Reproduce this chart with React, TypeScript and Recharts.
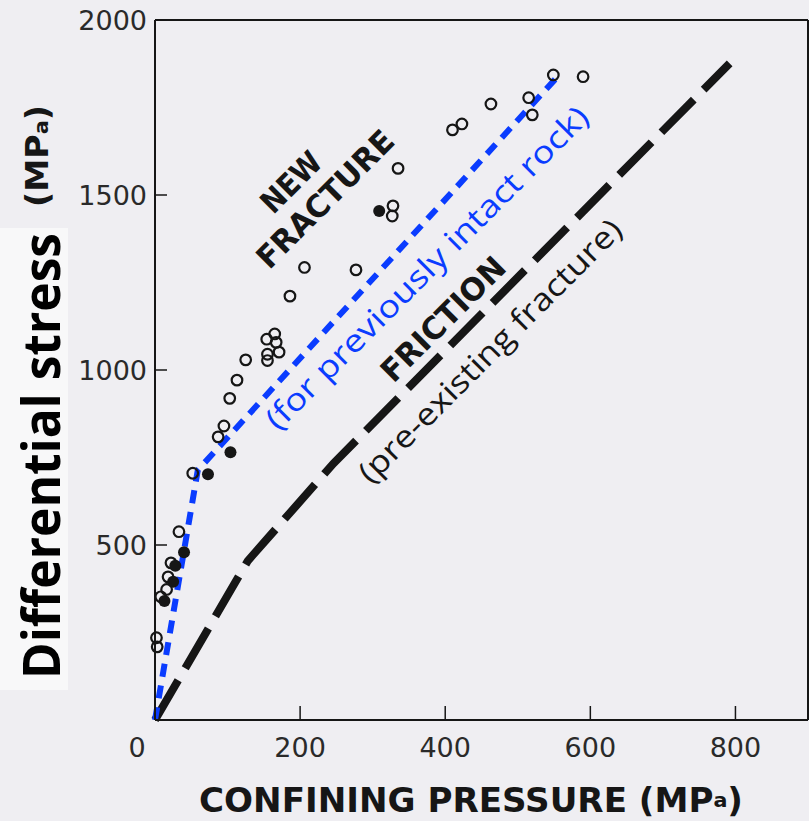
import React from "react";
import { ComposedChart, XAxis, YAxis, Line, Scatter } from "recharts";

const W = 809;
const H = 821;
const INK = "#161616";
const BLUE = "#0a3cff";
const PAPER = "#efeef2";

// open circles: confining pressure (MPa) / differential stress (MPa)
const openPressure = [2, 3, 8, 16, 18, 22, 33, 52, 87, 95, 103, 113, 125, 155, 155, 154, 165, 167, 171, 186, 206, 277, 327, 328, 335, 410, 423, 463, 515, 520, 549, 590];
const openStress = [235, 209, 352, 373, 409, 449, 538, 705, 809, 840, 919, 971, 1029, 1027, 1045, 1088, 1103, 1079, 1051, 1211, 1293, 1286, 1440, 1469, 1576, 1686, 1703, 1760, 1778, 1729, 1843, 1838];

// filled circles
const filledPressure = [13, 25, 28, 40, 73, 104, 309];
const filledStress = [340, 395, 441, 479, 702, 765, 1454];

// envelope for new fracture (blue dotted)
const fracturePressure = [0, 59, 553];
const fractureStress = [0, 714, 1834];

// friction on pre-existing fracture (black dashed)
const frictionPressure = [0, 128, 246, 792];
const frictionStress = [0, 455, 733, 1876];

const xTicks = [0, 200, 400, 600, 800];
const yTicks = [0, 500, 1000, 1500, 2000];
const rightTicks = [500, 1000, 1500];

const zip = (xs: number[], ys: number[]) => xs.map((x, i) => ({ x, y: ys[i] }));

const openPts = zip(openPressure, openStress);
const filledPts = zip(filledPressure, filledStress);
const fracturePts = zip(fracturePressure, fractureStress);
const frictionPts = zip(frictionPressure, frictionStress);

const tickFont = { fontFamily: "DejaVu Sans", fontSize: 27, fill: "#2a2a2a" };

function BottomTick(p: any) {
  const v = p.payload.value;
  return (
    <g>
      {v !== 0 && <line x1={p.x} y1={p.y} x2={p.x} y2={p.y - 14} stroke={INK} strokeWidth={1.5} />}
      <text x={v === 0 ? p.x - 18 : p.x} y={p.y + 27} textAnchor="middle" dominantBaseline="central" {...tickFont}>
        {v}
      </text>
    </g>
  );
}

function TopTick(p: any) {
  const v = p.payload.value;
  if (v === 0) return <g />;
  return <line x1={p.x} y1={p.y} x2={p.x} y2={p.y + 12} stroke={INK} strokeWidth={1.5} />;
}

function LeftTick(p: any) {
  const v = p.payload.value;
  if (v === 0) return <g />;
  return (
    <g>
      <line x1={p.x} y1={p.y} x2={p.x + 12} y2={p.y} stroke={INK} strokeWidth={1.5} />
      <text x={p.x - 8} y={p.y} textAnchor="end" dominantBaseline="central" {...tickFont}>
        {v}
      </text>
    </g>
  );
}

function RightTick(p: any) {
  return <line x1={p.x} y1={p.y} x2={p.x - 22} y2={p.y} stroke={INK} strokeWidth={1.5} />;
}

const OpenDot = (p: any) => <circle cx={p.cx} cy={p.cy} r={5.3} fill="none" stroke={INK} strokeWidth={2.2} />;
const FilledDot = (p: any) => <circle cx={p.cx} cy={p.cy} r={6} fill={INK} />;

function Rotated({ x, y, angle, children, ...rest }: any) {
  return (
    <text x={x} y={y} transform={`rotate(${angle} ${x} ${y})`} textAnchor="middle" dominantBaseline="central" {...rest}>
      {children}
    </text>
  );
}

export default function App() {
  return (
    <div style={{ position: "fixed", left: 0, top: 0, width: W, height: H, overflow: "hidden", background: PAPER }}>
      <svg style={{ position: "absolute", left: 0, top: 0 }} width={W} height={H}>
        <rect x={0} y={228} width={68} height={462} fill="#f8f8f9" />
      </svg>
      <div style={{ position: "absolute", left: 0, top: 0 }}>
        <ComposedChart width={W} height={H} margin={{ top: 8, right: 0, bottom: 41, left: 5 }}>
          <XAxis
            xAxisId="b"
            type="number"
            dataKey="x"
            domain={[0, 900]}
            ticks={xTicks}
            interval={0}
            height={60}
            tickSize={0}
            tickMargin={0}
            tickLine={false}
            axisLine={{ stroke: INK, strokeWidth: 2 }}
            tick={(p: any) => <BottomTick {...p} />}
          />
          <XAxis
            xAxisId="t"
            orientation="top"
            type="number"
            dataKey="x"
            domain={[0, 900]}
            ticks={xTicks}
            interval={0}
            height={12}
            tickSize={0}
            tickMargin={0}
            tickLine={false}
            axisLine={{ stroke: INK, strokeWidth: 2 }}
            tick={(p: any) => <TopTick {...p} />}
          />
          <YAxis
            yAxisId="l"
            type="number"
            dataKey="y"
            domain={[0, 2000]}
            ticks={yTicks}
            interval={0}
            width={150}
            tickSize={0}
            tickMargin={0}
            tickLine={false}
            axisLine={{ stroke: INK, strokeWidth: 2 }}
            tick={(p: any) => <LeftTick {...p} />}
          />
          <YAxis
            yAxisId="r"
            orientation="right"
            type="number"
            dataKey="y"
            domain={[0, 2000]}
            ticks={rightTicks}
            interval={0}
            width={1}
            tickSize={0}
            tickMargin={0}
            tickLine={false}
            axisLine={{ stroke: INK, strokeWidth: 2 }}
            tick={(p: any) => <RightTick {...p} />}
          />
          <Scatter xAxisId="b" yAxisId="l" data={openPts} dataKey="y" shape={OpenDot} isAnimationActive={false} />
          <Scatter xAxisId="b" yAxisId="l" data={filledPts} dataKey="y" shape={FilledDot} isAnimationActive={false} />
          <Line
            xAxisId="b"
            yAxisId="l"
            data={frictionPts}
            dataKey="y"
            type="linear"
            stroke={INK}
            strokeWidth={8}
            strokeDasharray="46 14"
            dot={false}
            activeDot={false}
            isAnimationActive={false}
          />
          <Line
            xAxisId="b"
            yAxisId="l"
            data={fracturePts}
            dataKey="y"
            type="linear"
            stroke={BLUE}
            strokeWidth={6}
            strokeDasharray="13 9"
            dot={false}
            activeDot={false}
            isAnimationActive={false}
          />
        </ComposedChart>
      </div>
      <svg style={{ position: "absolute", left: 0, top: 0, pointerEvents: "none" }} width={W} height={H}>
        <Rotated x={291} y={182} angle={-45} fontFamily="DejaVu Sans" fontWeight="bold" fontSize={31} fill={INK} textLength={72} lengthAdjust="spacingAndGlyphs">
          NEW
        </Rotated>
        <Rotated x={325} y={199} angle={-45} fontFamily="DejaVu Sans" fontWeight="bold" fontSize={31} fill={INK} textLength={180} lengthAdjust="spacingAndGlyphs">
          FRACTURE
        </Rotated>
        <Rotated x={443} y={319} angle={-45} fontFamily="DejaVu Sans" fontWeight="bold" fontSize={31} fill={INK} textLength={162} lengthAdjust="spacingAndGlyphs">
          FRICTION
        </Rotated>
        <Rotated x={426} y={267} angle={-45} fontFamily="Open Sans" fontSize={31} fill={BLUE} textLength={442} lengthAdjust="spacingAndGlyphs">
          (for previously intact rock)
        </Rotated>
        <Rotated x={489} y={350} angle={-45} fontFamily="Open Sans" fontSize={31} fill={INK} textLength={358} lengthAdjust="spacingAndGlyphs">
          (pre-existing fracture)
        </Rotated>
        <text x={471} y={800} textAnchor="middle" dominantBaseline="central" fontFamily="DejaVu Sans" fontWeight="bold" fontSize={33} fill={INK} textLength={544} lengthAdjust="spacingAndGlyphs">
          CONFINING PRESSURE (MP<tspan fontSize={20}>a</tspan>)
        </text>
        <text transform="translate(60 456) rotate(-90)" textAnchor="middle" fontFamily="Open Sans" fontWeight={700} fontSize={52} fill="#000" textLength={446} lengthAdjust="spacingAndGlyphs">
          Differential stress
        </text>
        <text transform="translate(48 156) rotate(-90)" textAnchor="middle" fontFamily="DejaVu Sans" fontWeight="bold" fontSize={32} fill={INK} textLength={102} lengthAdjust="spacingAndGlyphs">
          (MP<tspan fontSize={20}>a</tspan>)
        </text>
      </svg>
    </div>
  );
}
